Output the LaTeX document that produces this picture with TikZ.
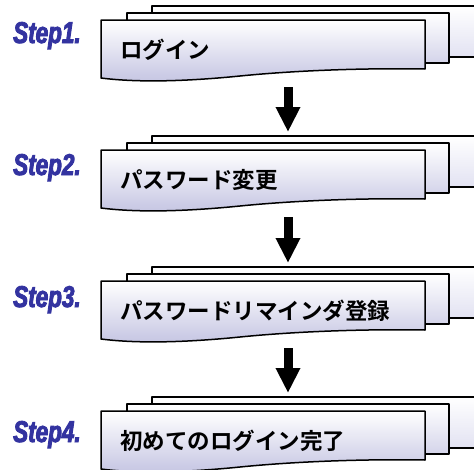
\documentclass[tikz,border=0pt]{standalone}
\usepackage{fontspec}
\usetikzlibrary{arrows.meta}
\newfontfamily\jpfont{Noto Sans CJK JP}[BoldFont=* Bold]
\newfontfamily\stepfont{Liberation Sans}[FakeStretch=0.75, FakeBold=3]
\definecolor{stepblue}{RGB}{51,51,160}
\definecolor{backlav}{RGB}{226,226,242}
\definecolor{midlav}{RGB}{212,212,234}
\definecolor{frontlav}{RGB}{196,196,226}

\begin{document}
\begin{tikzpicture}[x=1pt, y=-1pt,
    sheet/.style={draw=black, line width=1.5pt, line join=round,
        rectangle, inner sep=0pt, outer sep=0pt, anchor=north west},
    backsheet/.style={sheet, top color=white, bottom color=backlav},
    midsheet/.style={sheet, top color=white, bottom color=midlav},
    frontsheet/.style={draw=black, line width=1.5pt, line join=round,
        top color=white, bottom color=frontlav},
    steptitle/.style={anchor=west, inner sep=0pt,
        font=\jpfont\bfseries\fontsize{22.5}{26}\selectfont},
    steplabel/.style={anchor=base west, inner sep=0pt, text=stepblue,
        font=\stepfont\bfseries\itshape\fontsize{30}{32}\selectfont},
    flow/.style={line width=9pt, -{Triangle[width=23pt,length=25pt]},
        shorten <=24pt, shorten >=11pt}]
  \useasboundingbox (0,0) rectangle (474,469);

  % the four steps, each a stack of three sheets
  \foreach \i/\dy/\base/\txt in {1/0/43/ログイン,
                                 2/130/175/パスワード変更,
                                 3/261/307/パスワードリマインダ登録,
                                 4/391/442/初めてのログイン完了}{
    \node[backsheet, minimum width=340pt, minimum height=51pt] (back\i) at (152,6+\dy) {};
    \node[midsheet, minimum width=322pt, minimum height=50pt] (mid\i) at (127,13+\dy) {};
    \draw[frontsheet] (101,20+\dy) -- (425,20+\dy) -- (425,69+\dy)
        .. controls (370,68+\dy) and (300,70+\dy) .. (240,76+\dy)
        .. controls (190,81+\dy) and (140,83+\dy) .. (101,78+\dy) -- cycle;
    \node[steptitle] (title\i) at (120,50+\dy) {\txt};
    \node[steplabel] (label\i) at (13,\base) {Step\i.};
  }

  % arrows between the steps
  \foreach \i/\j in {1/2, 2/3, 3/4}
    \draw[flow] (mid\i.south) -- (mid\j.north);
\end{tikzpicture}
\end{document}
